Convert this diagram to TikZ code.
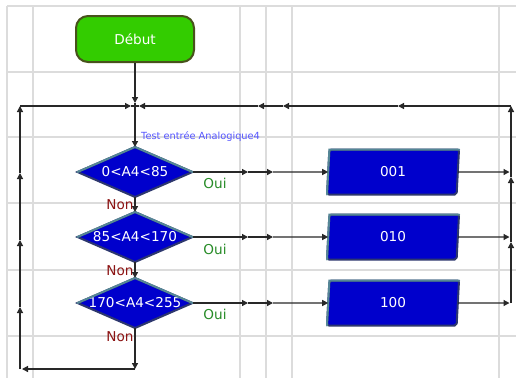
\documentclass[tikz,border=0pt]{standalone}
\usepackage{fontspec}
\setmainfont{DejaVu Sans}
\usetikzlibrary{shapes.geometric,arrows.meta}
\definecolor{gridc}{RGB}{220,220,220}
\definecolor{linec}{RGB}{40,40,40}
\definecolor{startfill}{RGB}{51,204,0}
\definecolor{startdraw}{RGB}{72,82,28}
\definecolor{blfill}{RGB}{0,0,204}
\definecolor{bldark}{RGB}{45,55,110}
\definecolor{blteal}{RGB}{85,135,150}
\definecolor{ouic}{RGB}{40,140,40}
\definecolor{nonc}{RGB}{140,20,20}
\definecolor{testc}{RGB}{85,85,255}
\begin{document}
\begin{tikzpicture}[x=1pt,y=-1pt,
  gridl/.style={gridc, line width=1.5pt},
  conn/.style={linec, line width=1.3pt},
  arr/.style={conn, -{Triangle[length=6pt,width=6pt]}},
  bigtxt/.style={font=\fontsize{13.6}{13.6}\selectfont},
  startbox/.style={rectangle, rounded corners=12pt, fill=startfill, draw=startdraw, line width=2pt,
    minimum width=118pt, minimum height=46pt, text=white, bigtxt},
  dia/.style={diamond, fill=blfill, draw=bldark, line width=2pt, minimum width=115pt,
    minimum height=50pt, inner sep=0pt, outer sep=0pt, text=white, bigtxt},
  iobox/.style={trapezium, trapezium left angle=82, trapezium right angle=98, trapezium stretches body,
    minimum width=132pt, minimum height=45pt, rounded corners=2pt, fill=blfill, draw=bldark,
    line width=2pt, outer sep=0pt, text=white, bigtxt},
  hil/.style={blteal, line width=2pt, line cap=round},
  oui/.style={text=ouic, bigtxt, inner sep=0pt},
  non/.style={text=nonc, bigtxt, inner sep=0pt}]
\useasboundingbox (0,0) rectangle (516,378);
\fill[white] (0,0) rectangle (516,378);
% grid
\foreach \gx in {7,33,240,266,292,499} \draw[gridl] (\gx,6) -- (\gx,378);
\foreach \gy in {6,72,137,203,270,336} \draw[gridl] (7,\gy) -- (516,\gy);
% nodes
\node[startbox] (start) at (135,39) {Début};
\node[dia] (d1) at (135,172) {\makebox[0pt]{0<A4<85}};
\node[dia] (d2) at (135,237) {\makebox[0pt]{85<A4<170}};
\node[dia] (d3) at (135,303) {\makebox[0pt]{170<A4<255}};
\foreach \d in {d1,d2,d3} \draw[hil] (\d.west) -- (\d.north) -- (\d.east);
\node[iobox] (b1) at (393,172) {001};
\node[iobox] (b2) at (393,237) {010};
\node[iobox] (b3) at (393,303) {100};
\foreach \b in {b1,b2,b3} \draw[hil] (\b.bottom left corner) -- (\b.top left corner) -- (\b.top right corner);
% labels
\node[anchor=west, text=testc, font=\fontsize{9.8}{9.8}\selectfont, inner sep=0pt] (test) at (141,137) {Test entrée Analogique4};
\node[oui] (o1) at (215,183) {Oui};
\node[oui] (o2) at (215,249) {Oui};
\node[oui] (o3) at (215,314) {Oui};
\node[non] (n1) at (120,205) {Non};
\node[non] (n2) at (120,271) {Non};
\node[non] (n3) at (120,337) {Non};
% coordinates
\coordinate (J) at (135,106);
\coordinate (Jd) at (135,103);
\coordinate (L0) at (20,369);
\coordinate (L1) at (20,307);
\coordinate (L2) at (20,240);
\coordinate (L3) at (20,173);
\coordinate (L4) at (20,106);
\coordinate (T0) at (131,106);
\coordinate (R0) at (511,303);
\coordinate (R1) at (511,242);
\coordinate (R2) at (511,177);
\coordinate (R3) at (511,106);
\coordinate (T1) at (398,106);
\coordinate (T2) at (283,106);
\coordinate (T3) at (258,106);
\coordinate (T4) at (139,106);
\coordinate (B0) at (135,369);
\coordinate (P1a) at (248,172); \coordinate (P1b) at (273,172); \coordinate (Q1) at (511,172);
\coordinate (P2a) at (248,237); \coordinate (P2b) at (273,237); \coordinate (Q2) at (511,237);
\coordinate (P3a) at (248,303); \coordinate (P3b) at (273,303); \coordinate (Q3) at (511,303);
% connectors
\draw[arr] (start) -- (Jd);
\draw[conn] (Jd) -- (J);
\draw[arr] (L0) -- (L1);
\draw[arr] (L1) -- (L2);
\draw[arr] (L2) -- (L3);
\draw[arr] (L3) -- (L4);
\draw[arr] (L4) -- (T0);
\draw[conn] (T0) -- (J);
\draw[arr] (R0) -- (R1);
\draw[arr] (R1) -- (R2);
\draw[arr] (R2) -- (R3);
\draw[arr] (R3) -- (T1);
\draw[arr] (T1) -- (T2);
\draw[arr] (T2) -- (T3);
\draw[arr] (T3) -- (T4);
\draw[conn] (T4) -- (J);
\draw[arr] (J) -- (d1.north);
\draw[arr] (d1.south) -- (d2.north);
\draw[arr] (d2.south) -- (d3.north);
\draw[arr] (d3.south) -- (B0);
\draw[arr, shorten >=2pt] (B0) -- (L0);
\draw[arr] (d1.east) -- (P1a); \draw[arr] (P1a) -- (P1b); \draw[arr] (P1b) -- (b1.west);
\draw[arr] (d2.east) -- (P2a); \draw[arr] (P2a) -- (P2b); \draw[arr] (P2b) -- (b2.west);
\draw[arr] (d3.east) -- (P3a); \draw[arr] (P3a) -- (P3b); \draw[arr] (P3b) -- (b3.west);
\draw[arr, shorten >=1.5pt] (b1.east) -- (Q1);
\draw[arr, shorten >=1.5pt] (b2.east) -- (Q2);
\draw[arr, shorten >=1.5pt] (b3.east) -- (Q3);
\end{tikzpicture}
\end{document}
